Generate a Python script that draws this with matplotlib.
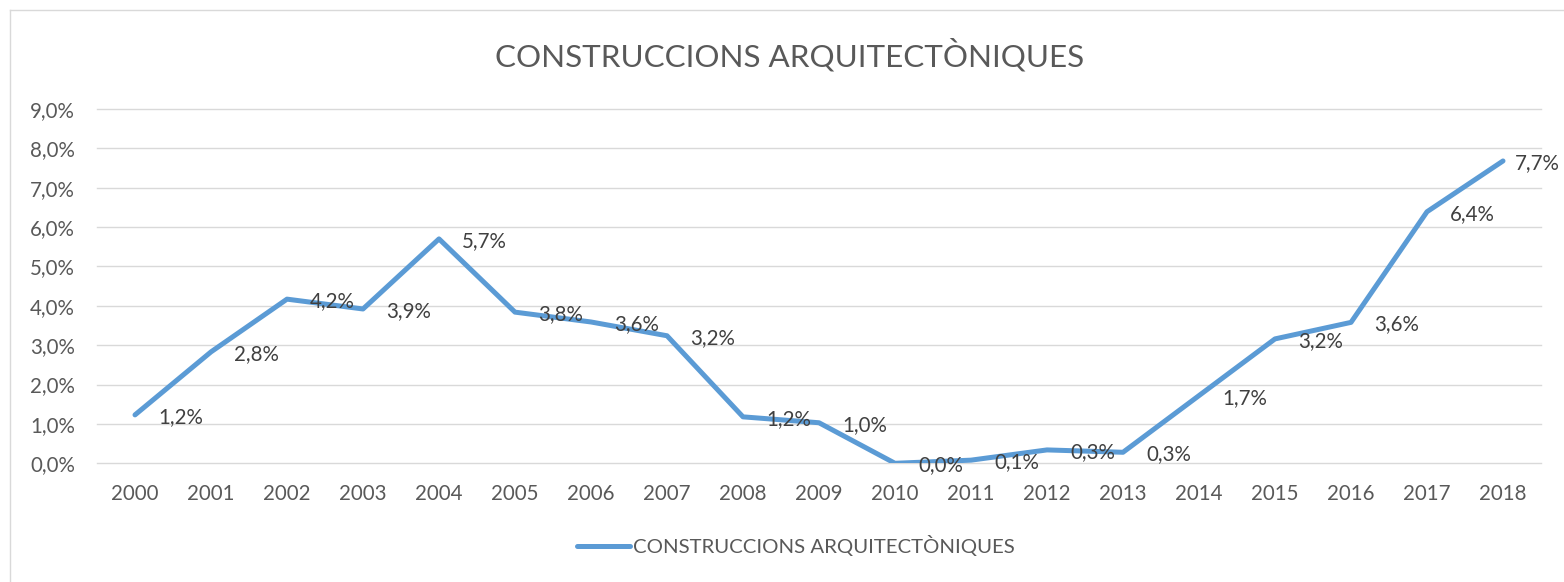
import matplotlib.pyplot as plt
from matplotlib.lines import Line2D

# данные графика
years = ['2000', '2001', '2002', '2003', '2004', '2005', '2006', '2007', '2008', '2009',
         '2010', '2011', '2012', '2013', '2014', '2015', '2016', '2017', '2018']
values = [1.23, 2.83, 4.17, 3.92, 5.70, 3.84, 3.59, 3.24, 1.18, 1.03,
          0.00, 0.08, 0.34, 0.28, 1.72, 3.16, 3.58, 6.39, 7.68]
y_ticks = [0, 1, 2, 3, 4, 5, 6, 7, 8, 9]
title = 'CONSTRUCCIONS ARQUITECTÒNIQUES'

plt.rcParams['font.family'] = ['Lato', 'DejaVu Sans']
blue = '#5B9BD5'
gray = '#595959'

fig = plt.figure(figsize=(15.64, 5.82), dpi=100)
ax = fig.add_axes([97 / 1564, 1 - 463.3 / 582, 1444 / 1564, 354.3 / 582])

x = list(range(len(years)))
ax.plot(x, values, color=blue, lw=3.6, solid_capstyle='round', solid_joinstyle='round',
        zorder=3)

# подписи значений справа от точек
for i, v in enumerate(values):
    dx = 8.6 if i == len(values) - 1 else 16.6
    ax.annotate(f'{v:.1f}%'.replace('.', ','), (i, v), xytext=(dx, -1.5),
                textcoords='offset points', ha='left', va='center',
                fontsize=14.8, color='#404040', zorder=4)

ax.set_xlim(-0.5, len(years) - 0.5)
ax.set_ylim(0, 9)
ax.set_xticks(x)
ax.set_xticklabels(years)
ax.set_yticks(y_ticks)
ax.set_yticklabels([f'{t},0%' for t in y_ticks])
ax.tick_params(length=0, labelsize=14.8, labelcolor=gray)
ax.tick_params(axis='x', pad=15)
ax.tick_params(axis='y', pad=16)
ax.grid(axis='y', color='#D9D9D9', lw=1.0)
ax.set_axisbelow(True)
for gl in ax.get_ygridlines():
    gl.set_clip_on(False)
for s in ax.spines.values():
    s.set_visible(False)

fig.text(790 / 1564, 1 - 55 / 582, title, ha='center', va='center',
         fontsize=22.6, color=gray)

handle = Line2D([], [], color=blue, lw=3.6, solid_capstyle='round')
fig.legend([handle], [title], loc='center', bbox_to_anchor=(796 / 1564, 1 - 546 / 582),
           frameon=False, fontsize=14.7, labelcolor=gray, handlelength=2.6,
           handletextpad=0.12)

# рамка вокруг диаграммы
fig.add_artist(Line2D([10 / 1564, 10 / 1564], [0, 1 - 10 / 582], color='#D9D9D9', lw=1))
fig.add_artist(Line2D([10 / 1564, 1], [1 - 10 / 582, 1 - 10 / 582], color='#D9D9D9', lw=1))

fig.savefig('out.png', dpi=100)
